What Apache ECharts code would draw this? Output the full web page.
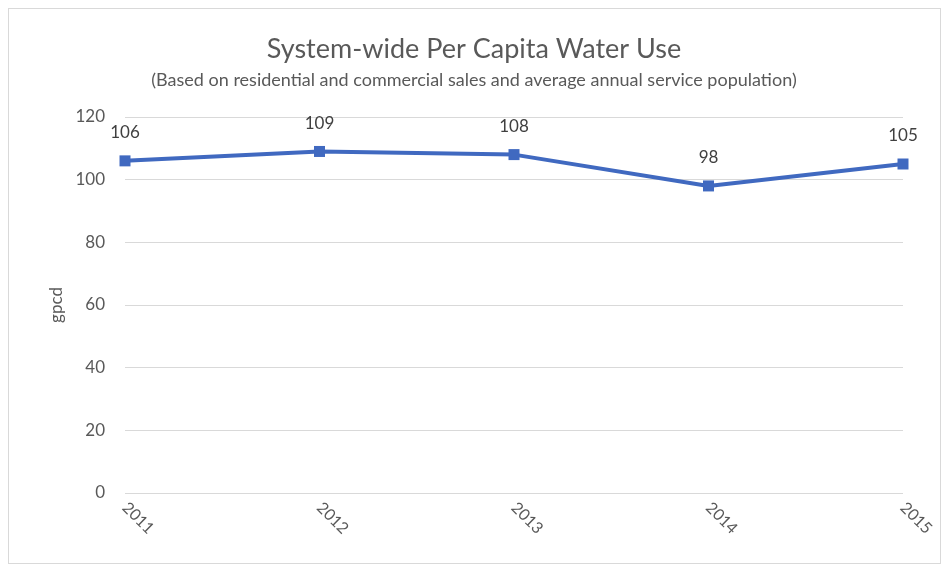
<!DOCTYPE html>
<html><head><meta charset="utf-8">
<script src="https://cdn.jsdelivr.net/npm/echarts@6/dist/echarts.min.js"></script>
<style>
html,body{margin:0;padding:0;background:#fff;}
#frame{position:absolute;left:8px;top:8px;width:931px;height:554px;border:1px solid #d9d9d9;}
#chart{position:absolute;left:0;top:0;width:948px;height:569px;}
</style></head>
<body><div id="frame"></div><div id="chart"></div>
<script>
const years = ['2011','2012','2013','2014','2015'];
const gpcd = [106, 109, 108, 98, 105];
const yTicks = {min: 0, max: 120, interval: 20};
const titleText = 'System-wide Per Capita Water Use';
const subtitleText = '(Based on residential and commercial sales and average annual service population)';

const chart = echarts.init(document.getElementById('chart'));
const font = 'Lato, "Open Sans", sans-serif';
chart.setOption({
  animation: false,
  title: {
    text: titleText, subtext: subtitleText, left: 'center', top: 31, itemGap: 8,
    textStyle: {fontFamily: font, fontSize: 27, fontWeight: 'normal', color: '#595959'},
    subtextStyle: {fontFamily: font, fontSize: 18, color: '#595959'}
  },
  grid: {left: 125, right: 45, top: 117, bottom: 76},
  xAxis: {
    type: 'category', data: years, boundaryGap: false,
    axisLine: {show: false}, axisTick: {show: false},
    axisLabel: {rotate: -45, margin: 12, fontFamily: font, fontSize: 16, color: '#595959'}
  },
  yAxis: {
    type: 'value', min: yTicks.min, max: yTicks.max, interval: yTicks.interval,
    name: 'gpcd', nameLocation: 'middle', nameGap: 52, nameRotate: 90,
    nameTextStyle: {fontFamily: font, fontSize: 17, color: '#595959'},
    axisLine: {show: false}, axisTick: {show: false},
    axisLabel: {margin: 20, fontFamily: font, fontSize: 17, color: '#595959'},
    splitLine: {lineStyle: {color: '#d9d9d9', width: 1}}
  },
  series: [{
    type: 'line', data: gpcd, symbol: 'rect', symbolSize: 11,
    lineStyle: {color: '#4069C0', width: 4},
    itemStyle: {color: '#4069C0'},
    label: {show: true, position: 'top', distance: 14, fontFamily: font, fontSize: 17, color: '#404040'}
  }]
});
</script></body></html>
